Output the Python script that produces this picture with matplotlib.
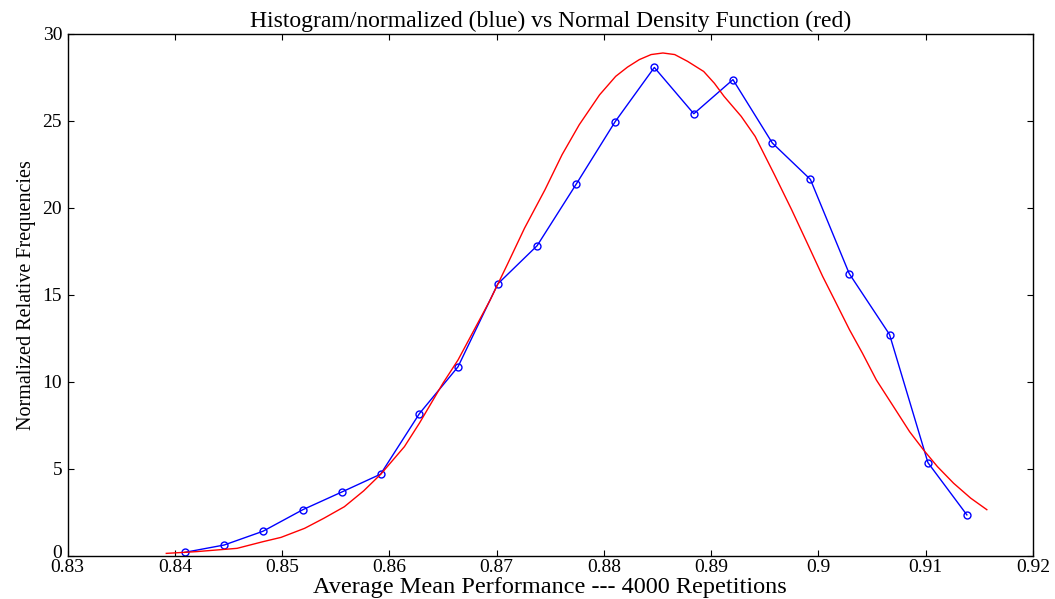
import matplotlib
matplotlib.use("Agg")
import matplotlib.pyplot as plt
from matplotlib.transforms import ScaledTranslation

# histogram (normalized) - blue points
hist_x = [0.84093, 0.84459, 0.84821, 0.85193, 0.85558, 0.85918, 0.86280,
          0.86639, 0.87011, 0.87377, 0.87742, 0.88104, 0.88470, 0.88838,
          0.89203, 0.89570, 0.89925, 0.90287, 0.90663, 0.91021, 0.91384]
hist_y = [0.21, 0.63, 1.42, 2.66, 3.68, 4.70, 8.18, 10.86, 15.63, 17.82,
          21.36, 24.94, 28.06, 25.40, 27.36, 23.72, 21.63, 16.22, 12.72,
          5.36, 2.36]

# normal density curve - red
pdf_x = [0.8392, 0.8420, 0.8458, 0.8482, 0.8499, 0.8521, 0.8539, 0.8558,
         0.8576, 0.8592, 0.8614, 0.8628, 0.8650, 0.8664, 0.8684, 0.8694,
         0.8710, 0.8726, 0.8745, 0.8761, 0.8777, 0.8796, 0.8811, 0.8822,
         0.8833, 0.8844, 0.8855, 0.8866, 0.8878, 0.8886, 0.8893, 0.8903,
         0.8912, 0.8928, 0.8941, 0.8959, 0.8975, 0.8991, 0.9004, 0.9015,
         0.9029, 0.9041, 0.9054, 0.9070, 0.9085, 0.9098, 0.9111, 0.9126,
         0.9142, 0.9157]
pdf_y = [0.15, 0.25, 0.44, 0.82, 1.07, 1.59, 2.17, 2.83, 3.74, 4.70, 6.28,
         7.63, 9.93, 11.26, 13.56, 14.71, 16.75, 18.83, 21.03, 23.05, 24.77,
         26.49, 27.55, 28.08, 28.51, 28.80, 28.89, 28.80, 28.41, 28.10, 27.83,
         27.15, 26.40, 25.25, 24.10, 21.90, 19.89, 17.78, 16.05, 14.71, 12.99,
         11.65, 10.11, 8.58, 7.14, 6.09, 5.13, 4.18, 3.32, 2.66]

x_ticks = [0.83, 0.84, 0.85, 0.86, 0.87, 0.88, 0.89, 0.9, 0.91, 0.92]
x_tick_labels = ["0.83", "0.84", "0.85", "0.86", "0.87", "0.88", "0.89",
                 "0.9", "0.91", "0.92"]
y_ticks = [0, 5, 10, 15, 20, 25, 30]

plt.rcParams['font.family'] = ['Liberation Serif', 'DejaVu Serif']

fig = plt.figure(figsize=(10.55, 5.99), dpi=100)
ax = fig.add_axes([0.0641, 0.0718, 0.915, 0.872])

ax.plot(hist_x, hist_y, color='blue', lw=1.0, marker='o', ms=5,
        mfc='none', mec='blue', mew=1.0)
ax.plot(pdf_x, pdf_y, color='red', lw=1.0)

ax.set_xlim(0.83, 0.92)
ax.set_ylim(0, 30)
ax.set_xticks(x_ticks)
ax.set_xticklabels(x_tick_labels)
ax.set_yticks(y_ticks)
ax.tick_params(direction='in', top=True, right=True, length=4,
               labelsize=14, width=0.8)
ax.tick_params(axis='x', pad=2)
ax.tick_params(axis='y', pad=4)
for s in ax.spines.values():
    s.set_linewidth(1.0)

# nudge the "0" label up a little so it does not touch "0.83"
lbl0 = ax.get_yticklabels()[0]
lbl0.set_transform(lbl0.get_transform() +
                   ScaledTranslation(0, 3 / 72, fig.dpi_scale_trans))

ax.set_title("Histogram/normalized (blue) vs Normal Density Function (red)",
             fontsize=17, pad=5)
ax.set_xlabel("Average Mean Performance --- 4000 Repetitions", fontsize=17.5,
              labelpad=1)
ax.set_ylabel("Normalized Relative Frequencies", fontsize=14.5, labelpad=5)

fig.savefig("out.png", dpi=100)
